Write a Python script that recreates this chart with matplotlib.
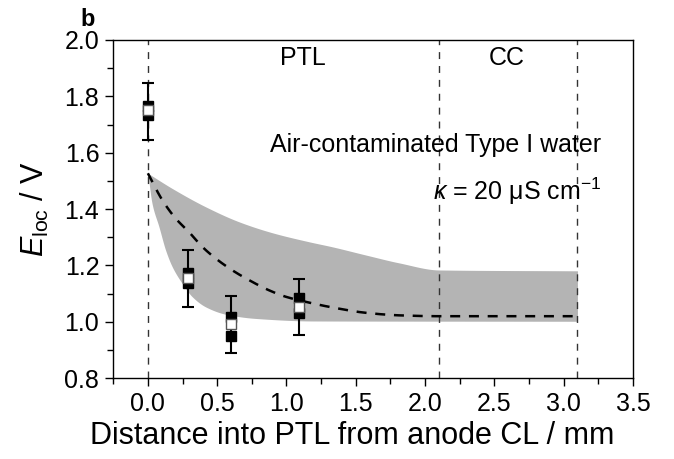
import matplotlib
matplotlib.use("Agg")
import matplotlib.pyplot as plt
from matplotlib.ticker import MultipleLocator
import numpy as np

plt.rcParams['font.family'] = ['Liberation Sans', 'DejaVu Sans']
plt.rcParams['mathtext.fontset'] = 'custom'
plt.rcParams['mathtext.rm'] = 'Liberation Sans'
plt.rcParams['mathtext.it'] = 'Liberation Sans:italic'

# Measured points
x_pts = [0.0, 0.29, 0.6, 1.09]
mean_vals = [1.75, 1.154, 0.992, 1.053]
err_low = [1.645, 1.053, 0.891, 0.952]
err_high = [1.848, 1.254, 1.091, 1.151]
black_x = [0.0, 0.0, 0.29, 0.29, 0.6, 0.6, 1.09, 1.09]
black_y = [1.766, 1.734, 1.172, 1.136, 1.018, 0.950, 1.083, 1.032]

# Shaded band (model range)
band_upper_x = [0.0, 0.176, 0.417, 0.657, 0.898, 1.163, 1.332, 1.573, 1.814, 2.1, 3.1]
band_upper_y = [1.527, 1.473, 1.408, 1.355, 1.316, 1.284, 1.266, 1.237, 1.209, 1.184, 1.181]
band_lower_x = [0.0, 0.03, 0.08, 0.128, 0.176, 0.248, 0.32, 0.417, 0.561, 0.778, 1.2, 3.1]
band_lower_y = [1.527, 1.42, 1.337, 1.254, 1.195, 1.136, 1.089, 1.053, 1.027, 1.012, 1.003, 1.002]

# Dashed model curve
curve_x = [0.0, 0.104, 0.2, 0.296, 0.393, 0.489, 0.609, 0.73, 0.874, 0.995, 1.139,
           1.332, 1.573, 1.814, 2.1, 3.1]
curve_y = [1.527, 1.432, 1.367, 1.319, 1.266, 1.225, 1.183, 1.148, 1.112, 1.089, 1.071,
           1.051, 1.032, 1.023, 1.020, 1.020]

# Region boundaries
boundaries = [0.0, 2.1, 3.1]


def pchip(x, y, xn):
    """Monotone cubic (Fritsch-Carlson) interpolation for smooth drawing."""
    x = np.asarray(x, float)
    y = np.asarray(y, float)
    h = np.diff(x)
    d = np.diff(y) / h
    m = np.zeros_like(y)
    m[0] = d[0]
    m[-1] = d[-1]
    for i in range(1, len(x) - 1):
        if d[i - 1] * d[i] <= 0:
            m[i] = 0.0
        else:
            w1 = 2 * h[i] + h[i - 1]
            w2 = h[i] + 2 * h[i - 1]
            m[i] = (w1 + w2) / (w1 / d[i - 1] + w2 / d[i])
    out = np.empty_like(xn, dtype=float)
    idx = np.clip(np.searchsorted(x, xn) - 1, 0, len(x) - 2)
    for j, (xi, k) in enumerate(zip(xn, idx)):
        t = (xi - x[k]) / h[k]
        h00 = 2 * t**3 - 3 * t**2 + 1
        h10 = t**3 - 2 * t**2 + t
        h01 = -2 * t**3 + 3 * t**2
        h11 = t**3 - t**2
        out[j] = h00 * y[k] + h10 * h[k] * m[k] + h01 * y[k + 1] + h11 * h[k] * m[k + 1]
    return out


fig = plt.figure(figsize=(6.74, 4.59), dpi=100)
ax = fig.add_axes([0.168, 0.176, 0.771, 0.737])

xs = np.linspace(0.0, 3.1, 600)
up = pchip(band_upper_x, band_upper_y, xs)
lo = pchip(band_lower_x, band_lower_y, xs)
ax.fill_between(xs, lo, up, color='#b4b4b4', linewidth=0, zorder=1)

for b in boundaries:
    ax.axvline(b, color='#333333', linestyle=(0, (5, 5)), linewidth=1.0, zorder=2)

cs = pchip(curve_x, curve_y, xs)
ax.plot(xs, cs, color='black', linestyle=(0, (4, 3.5)), linewidth=1.8, zorder=3)

yerr = [[m - l for m, l in zip(mean_vals, err_low)], [h - m for m, h in zip(mean_vals, err_high)]]
ax.errorbar(x_pts, mean_vals, yerr=yerr, fmt='none', ecolor='black', elinewidth=1.5,
            capsize=4, capthick=1.5, zorder=4)
ax.plot(black_x, black_y, 's', color='black', markersize=6.5, zorder=5)
ax.plot(x_pts, mean_vals, 's', markerfacecolor='white', markeredgecolor='#555555',
        markeredgewidth=1.0, markersize=6.5, zorder=6)

ax.set_xlim(-0.25, 3.5)
ax.set_ylim(0.8, 2.0)
ax.xaxis.set_major_locator(MultipleLocator(0.5))
ax.xaxis.set_minor_locator(MultipleLocator(0.25))
ax.yaxis.set_major_locator(MultipleLocator(0.2))
ax.yaxis.set_minor_locator(MultipleLocator(0.1))
ax.set_xticks([0.0, 0.5, 1.0, 1.5, 2.0, 2.5, 3.0, 3.5])
ax.set_xticklabels(['0.0', '0.5', '1.0', '1.5', '2.0', '2.5', '3.0', '3.5'])
ax.tick_params(which='both', direction='out', labelsize=18, width=1.0, top=False, right=False)
ax.tick_params(which='major', length=6, pad=4)
ax.tick_params(which='minor', length=4)
for s in ax.spines.values():
    s.set_linewidth(1.0)

ax.set_xlabel('Distance into PTL from anode CL / mm', fontsize=22)
ax.xaxis.set_label_coords(0.46, -0.125)
ax.set_ylabel(r'$E_{\mathrm{loc}}$ / V', fontsize=22, labelpad=10)

ax.text(1.12, 1.936, 'PTL', fontsize=18, ha='center', va='center')
ax.text(2.59, 1.936, 'CC', fontsize=18, ha='center', va='center')
ax.text(3.27, 1.627, 'Air-contaminated Type I water', fontsize=18, ha='right', va='center')
ax.text(3.27, 1.464, r'$\kappa$ = 20 μS cm$^{-1}$', fontsize=18, ha='right', va='center')

fig.text(88 / 674, 1 - 19 / 459, 'b', fontsize=17, fontweight='bold', ha='center', va='center')

fig.savefig('out.png', dpi=100)
